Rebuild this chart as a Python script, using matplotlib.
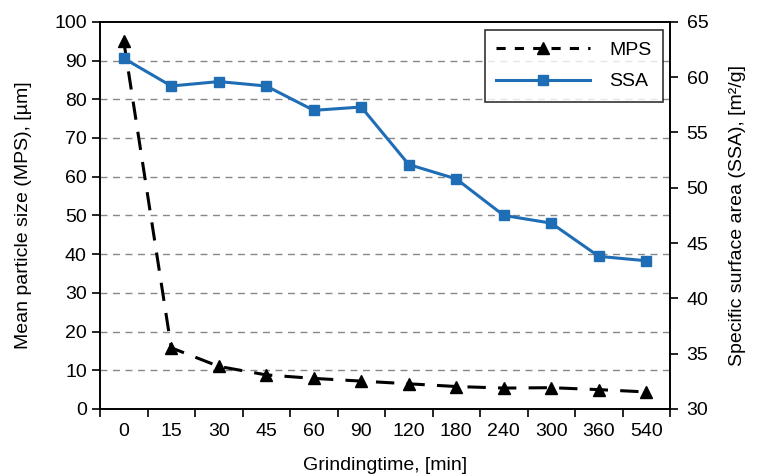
import matplotlib
matplotlib.use("Agg")
import matplotlib.pyplot as plt
from matplotlib.lines import Line2D

plt.rcParams["font.family"] = ["Liberation Sans", "DejaVu Sans"]

times = ["0", "15", "30", "45", "60", "90", "120", "180", "240", "300", "360", "540"]
mps = [95.0, 15.8, 11.0, 8.8, 7.9, 7.2, 6.5, 5.8, 5.4, 5.5, 5.0, 4.4]
ssa = [61.7, 59.2, 59.6, 59.2, 57.0, 57.3, 52.1, 50.8, 47.5, 46.8, 43.8, 43.4]

blue = "#1f6db5"
fs = 14

fig = plt.figure(figsize=(7.6, 4.75), dpi=100)
ax = fig.add_axes([0.1316, 0.139, 0.75, 0.815])
ax2 = ax.twinx()

x = list(range(len(times)))
ax.plot(x, mps, color="black", linestyle=(0, (6, 4)), linewidth=2.2,
        marker="^", markersize=9, label="MPS", zorder=3)
ax2.plot(x, ssa, color=blue, linewidth=2.2, marker="s", markersize=7,
         label="SSA", zorder=3)

ax.set_xlim(-0.5, len(times) - 0.5)
ax.set_ylim(0, 100)
ax2.set_ylim(30, 65)
ax.set_yticks(range(0, 101, 10))
ax2.set_yticks(range(30, 66, 5))

# category ticks sit between the categories, labels under the centres
ax.set_xticks([i - 0.5 for i in range(len(times) + 1)])
ax.set_xticklabels([])
ax.set_xticks(x, minor=True)
ax.set_xticklabels(times, minor=True)
ax.tick_params(axis="x", which="major", length=6, width=1.2, direction="out")
ax.tick_params(axis="x", which="minor", length=0, labelsize=fs, pad=10)
ax.tick_params(axis="y", length=6, width=1.2, labelsize=fs)
ax2.tick_params(axis="y", length=6, width=1.2, labelsize=fs, pad=6)

for g in range(10, 100, 10):
    ax.axhline(g, color="#888888", linestyle=(0, (5, 4)), linewidth=1, zorder=1)

for a in (ax, ax2):
    for s in a.spines.values():
        s.set_linewidth(1.2)

ax.set_ylabel("Mean particle size (MPS), [µm]", fontsize=fs, labelpad=16)
ax2.set_ylabel("Specific surface area (SSA), [m²/g]", fontsize=fs, labelpad=15)
ax.set_xlabel("Grindingtime, [min]", fontsize=fs, labelpad=12)

handles = [
    Line2D([], [], color="black", linestyle=(0, (3, 3)), linewidth=2.2,
           marker="^", markersize=9, label="MPS"),
    Line2D([], [], color=blue, linewidth=2.2, marker="s", markersize=7, label="SSA"),
]
leg = ax2.legend(handles=handles, loc="upper right", bbox_to_anchor=(0.988, 0.979),
                 borderaxespad=0, fontsize=fs, frameon=True, fancybox=False,
                 edgecolor="black", handlelength=4.8, handletextpad=1.0,
                 borderpad=0.6, labelspacing=0.7)
leg.get_frame().set_linewidth(1.2)

fig.savefig("out.png", dpi=100)
plt.close(fig)
